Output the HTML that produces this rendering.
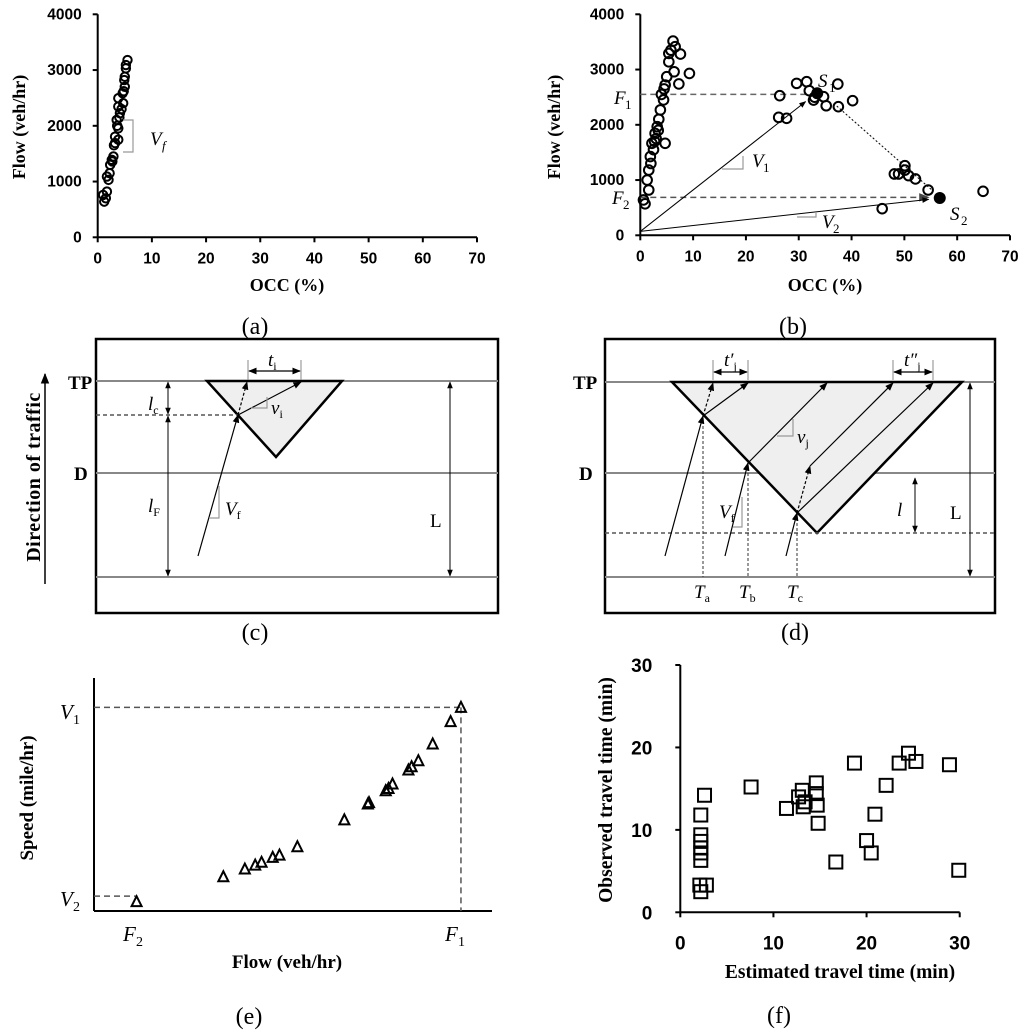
<!DOCTYPE html>
<html><head><meta charset="utf-8"><title>Traffic figure</title>
<style>
html,body{margin:0;padding:0;background:#fff;}
svg{display:block;}
.tk{font-family:"Liberation Sans",sans-serif;font-weight:bold;font-size:15.5px;fill:#000;}
.ttl{font-family:"Liberation Serif",serif;font-weight:bold;font-size:18px;fill:#000;}
.pl{font-family:"Liberation Serif",serif;font-size:24px;fill:#000;}
.it{font-family:"Liberation Serif",serif;font-style:italic;font-size:19px;fill:#000;}
.sub{font-size:12px;font-style:normal;}
.bl{font-family:"Liberation Serif",serif;font-weight:bold;font-size:19px;fill:#000;}
</style></head>
<body>
<svg id="fig" width="1024" height="1034" viewBox="0 0 1024 1034" xmlns="http://www.w3.org/2000/svg">
<defs>
<marker id="ah" viewBox="0 0 10 10" refX="9" refY="5" markerWidth="7" markerHeight="7" orient="auto-start-reverse"><path d="M0,1 L10,5 L0,9 z" fill="#000"/></marker>
<marker id="ahg" viewBox="0 0 10 10" refX="9" refY="5" markerWidth="7" markerHeight="7" orient="auto-start-reverse"><path d="M0,1 L10,5 L0,9 z" fill="#444"/></marker>
</defs>

<!-- Panel (c) static diagram -->
<g>
  <rect x="96" y="339" width="402" height="274" fill="none" stroke="#000" stroke-width="2.5"/>
  <line x1="96" y1="381" x2="498" y2="381" stroke="#888" stroke-width="2"/>
  <line x1="96" y1="473" x2="498" y2="473" stroke="#888" stroke-width="2"/>
  <line x1="96" y1="577" x2="498" y2="577" stroke="#888" stroke-width="2"/>
  <polygon points="207,381 342,381 276,457" fill="#efefef" stroke="#000" stroke-width="2.5"/>
  <line x1="96" y1="415" x2="238" y2="415" stroke="#555" stroke-width="1.5" stroke-dasharray="4,3"/>
  <line x1="198" y1="556" x2="238" y2="415" stroke="#000" stroke-width="1.2" marker-end="url(#ah)"/>
  <line x1="238" y1="415" x2="247" y2="382" stroke="#000" stroke-width="1.2" stroke-dasharray="3,2" marker-end="url(#ah)"/>
  <line x1="238" y1="415" x2="301" y2="382" stroke="#000" stroke-width="1.2" marker-end="url(#ah)"/>
  <line x1="248" y1="360" x2="248" y2="380" stroke="#888" stroke-width="1"/>
  <line x1="301" y1="360" x2="301" y2="380" stroke="#888" stroke-width="1"/>
  <line x1="249" y1="371" x2="300" y2="371" stroke="#000" stroke-width="1.2" marker-start="url(#ah)" marker-end="url(#ah)"/>
  <text class="it" x="268" y="366">t<tspan class="sub" dy="4">i</tspan></text>
  <polyline points="251,408 267,408 267,397" fill="none" stroke="#999" stroke-width="1.2"/>
  <text class="it" x="271" y="414">v<tspan class="sub" dy="4">i</tspan></text>
  <polyline points="209,518 219,518 219,486" fill="none" stroke="#999" stroke-width="1.2"/>
  <text class="it" x="225" y="515">V<tspan class="sub" dy="4">f</tspan></text>
  <line x1="168" y1="382" x2="168" y2="414" stroke="#000" stroke-width="1" marker-start="url(#ah)" marker-end="url(#ah)"/>
  <line x1="168" y1="416" x2="168" y2="576" stroke="#000" stroke-width="1" marker-start="url(#ah)" marker-end="url(#ah)"/>
  <text class="it" x="148" y="410">l<tspan class="sub" dy="4">c</tspan></text>
  <text class="it" x="148" y="512">l<tspan class="sub" dy="4">F</tspan></text>
  <line x1="450" y1="382" x2="450" y2="576" stroke="#000" stroke-width="1" marker-start="url(#ah)" marker-end="url(#ah)"/>
  <text x="430" y="527" style="font-family:'Liberation Serif',serif;font-size:19px">L</text>
  <text class="bl" x="68" y="389">TP</text>
  <text class="bl" x="74" y="480">D</text>
  <line x1="45" y1="584" x2="45" y2="374" stroke="#000" stroke-width="1.5" marker-end="url(#ah)"/>
  <text class="bl" transform="translate(40,477) rotate(-90)" text-anchor="middle" style="font-size:20px;letter-spacing:0.5px">Direction of traffic</text>
  <text class="pl" x="255" y="640" text-anchor="middle">(c)</text>
</g>

<!-- Panel (d) static diagram -->
<g>
  <rect x="605" y="339" width="390" height="274" fill="none" stroke="#000" stroke-width="2.5"/>
  <line x1="605" y1="382" x2="995" y2="382" stroke="#888" stroke-width="2"/>
  <line x1="605" y1="473" x2="995" y2="473" stroke="#888" stroke-width="2"/>
  <line x1="605" y1="577" x2="995" y2="577" stroke="#888" stroke-width="2"/>
  <polygon points="672,382 962,382 817,533" fill="#efefef" stroke="#000" stroke-width="2.5"/>
  <line x1="605" y1="533" x2="995" y2="533" stroke="#555" stroke-width="1.5" stroke-dasharray="4,3"/>
  <line x1="703" y1="416" x2="703" y2="577" stroke="#333" stroke-width="1" stroke-dasharray="3,2"/>
  <line x1="748" y1="463" x2="748" y2="577" stroke="#333" stroke-width="1" stroke-dasharray="3,2"/>
  <line x1="797" y1="513" x2="797" y2="577" stroke="#333" stroke-width="1" stroke-dasharray="3,2"/>
  <line x1="665" y1="556" x2="703" y2="416" stroke="#000" stroke-width="1.2" marker-end="url(#ah)"/>
  <line x1="725" y1="556" x2="748" y2="463" stroke="#000" stroke-width="1.2" marker-end="url(#ah)"/>
  <line x1="786" y1="556" x2="797" y2="513" stroke="#000" stroke-width="1.2" marker-end="url(#ah)"/>
  <line x1="703" y1="416" x2="713" y2="383" stroke="#000" stroke-width="1.2" stroke-dasharray="3,2" marker-end="url(#ah)"/>
  <line x1="703" y1="416" x2="748" y2="383" stroke="#000" stroke-width="1.2" marker-end="url(#ah)"/>
  <line x1="748" y1="463" x2="827" y2="383" stroke="#000" stroke-width="1.2" marker-end="url(#ah)"/>
  <line x1="797" y1="513" x2="810" y2="466" stroke="#000" stroke-width="1.2" stroke-dasharray="3,2" marker-end="url(#ah)"/>
  <line x1="810" y1="466" x2="893" y2="383" stroke="#000" stroke-width="1.2" marker-end="url(#ah)"/>
  <line x1="797" y1="513" x2="933" y2="383" stroke="#000" stroke-width="1.2" marker-end="url(#ah)"/>
  <line x1="713" y1="360" x2="713" y2="380" stroke="#888" stroke-width="1"/>
  <line x1="748" y1="360" x2="748" y2="380" stroke="#888" stroke-width="1"/>
  <line x1="714" y1="372" x2="747" y2="372" stroke="#000" stroke-width="1.2" marker-start="url(#ah)" marker-end="url(#ah)"/>
  <text class="it" x="724" y="366">t′<tspan class="sub" dy="4">j</tspan></text>
  <line x1="893" y1="360" x2="893" y2="380" stroke="#888" stroke-width="1"/>
  <line x1="933" y1="360" x2="933" y2="380" stroke="#888" stroke-width="1"/>
  <line x1="894" y1="372" x2="932" y2="372" stroke="#000" stroke-width="1.2" marker-start="url(#ah)" marker-end="url(#ah)"/>
  <text class="it" x="904" y="366">t″<tspan class="sub" dy="4">j</tspan></text>
  <polyline points="777,436 793,436 793,419" fill="none" stroke="#999" stroke-width="1.2"/>
  <text class="it" x="797" y="443">v<tspan class="sub" dy="4">j</tspan></text>
  <polyline points="733,527 742,527 742,497" fill="none" stroke="#999" stroke-width="1.2"/>
  <text class="it" x="719" y="518">V<tspan class="sub" dy="4">f</tspan></text>
  <line x1="915" y1="478" x2="915" y2="532" stroke="#000" stroke-width="1" marker-start="url(#ah)" marker-end="url(#ah)"/>
  <text class="it" x="897" y="516">l</text>
  <line x1="970" y1="383" x2="970" y2="576" stroke="#000" stroke-width="1" marker-start="url(#ah)" marker-end="url(#ah)"/>
  <text x="950" y="519" style="font-family:'Liberation Serif',serif;font-size:19px">L</text>
  <text class="it" x="694" y="598">T<tspan class="sub" dy="4">a</tspan></text>
  <text class="it" x="739" y="598">T<tspan class="sub" dy="4">b</tspan></text>
  <text class="it" x="787" y="598">T<tspan class="sub" dy="4">c</tspan></text>
  <text class="bl" x="573" y="389">TP</text>
  <text class="bl" x="579" y="480">D</text>
  <text class="pl" x="795" y="640" text-anchor="middle">(d)</text>
</g>
</svg>

<script>
var NS = 'http://www.w3.org/2000/svg';
var svg = document.getElementById('fig');
function mk(tag, attrs, parent) {
  var e = document.createElementNS(NS, tag);
  for (var k in attrs) e.setAttribute(k, attrs[k]);
  (parent || svg).appendChild(e);
  return e;
}
function txt(str, attrs, parent) { var t = mk('text', attrs, parent); t.textContent = str; return t; }

// ---------- Panel (a) data ----------
var aOcc  = [1.2,1.0,1.7,1.5,2.0,1.7,2.3,2.6,2.9,2.7,3.2,3.8,3.2,3.8,3.5,4.1,3.8,4.7,3.8,4.6,5.0,4.9,5.0,5.2,5.5,5.2,4.4,4.0,3.6,3.0,2.2,4.8];
var aFlow = [640,760,820,700,1030,1090,1300,1390,1450,1360,1690,1750,1805,1955,2105,2225,2345,2405,2495,2585,2700,2820,2880,3030,3180,3090,2300,2150,2000,1650,1150,2620];
var occTicks = [0,10,20,30,40,50,60,70];
var flowTicks = [0,1000,2000,3000,4000];

// ---------- Panel (b) data ----------
var bOcc  = [6.2,6.6,7.6,5.4,5.4,9.3,6.4,7.3,5.0,4.7,4.4,3.8,3.5,3.2,2.8,4.7,2.2,1.9,1.6,1.3,1.6,0.6,0.9,3.0,2.5,2.0,4.0,3.4,2.7,5.8,4.5,26.4,26.2,27.7,29.6,31.5,32.0,32.8,34.7,35.2,37.5,37.4,40.2,33.0,50.1,50.1,48.1,48.9,50.8,52.1,54.5,45.8,64.9];
var bFlow = [3515,3413,3280,3292,3140,2930,2960,2740,2870,2720,2450,2270,2100,1965,1845,1665,1665,1425,1180,1000,820,640,570,1750,1550,1300,2550,1900,1700,3350,2650,2527,2135,2117,2750,2780,2617,2448,2508,2345,2328,2738,2436,2500,1260,1180,1110,1110,1080,1020,820,482,796];
var bS1 = [33.5, 2570];
var bS2 = [56.7, 675];
var bF1 = 2550, bF2 = 687;

// ---------- Panel (e) data (normalised units 0-100) ----------
var eFlow  = [10.7,32.5,37.9,40.5,42.1,44.9,46.6,51.1,62.9,68.8,69.1,73.3,74.0,75.0,79.0,79.8,81.5,85.1,89.6,92.2];
var eSpeed = [4.0,14.7,18.0,19.7,20.9,23.0,24.0,27.6,39.1,45.9,46.5,51.6,52.6,54.5,60.5,61.9,64.5,71.7,81.3,87.4];

// ---------- Panel (f) data ----------
var fEst = [7.6,2.6,2.2,2.2,2.2,2.2,2.2,2.2,2.1,2.2,2.8,11.4,12.7,13.1,13.4,13.2,14.6,14.6,14.7,14.8,16.7,18.7,20.0,20.5,20.9,22.1,23.5,24.5,25.3,28.9,29.9];
var fObs = [15.2,14.2,11.8,9.4,8.6,7.8,7.2,6.3,3.3,2.5,3.3,12.6,14.0,14.8,13.4,12.8,15.7,14.4,13.0,10.8,6.1,18.1,8.7,7.2,11.9,15.4,18.1,19.3,18.3,17.9,5.1];
var fTicks = [0,10,20,30];

// ===== Panel (a) =====
(function(){
  var g = mk('g', {});
  
  
  var x0 = 97.7, x1 = 477, y0 = 237.3, y1 = 14.3;
  function X(v){ return x0 + v/70*(x1-x0); }
  function Y(v){ return y0 - v/4000*(y0-y1); }
  var ax = mk('line', {x1:x0,y1:y0,x2:x1,y2:y0,stroke:'#000','stroke-width':2}, g);
  
  
  var ay = mk('line', {x1:x0,y1:y0,x2:x0,y2:y1,stroke:'#000','stroke-width':2}, g);
  
  
  occTicks.forEach(function(t){
    var tl = mk('line', {x1:X(t),y1:y0,x2:X(t),y2:y0+5,stroke:'#000','stroke-width':2}, g);
    
    
    var tx = txt(String(t), {x:X(t),y:y0+26,'text-anchor':'middle','class':'tk'}, g);
    
    
  });
  flowTicks.forEach(function(t){
    var tl = mk('line', {x1:x0-5,y1:Y(t),x2:x0,y2:Y(t),stroke:'#000','stroke-width':2}, g);
    
    
    var tx = txt(String(t), {x:x0-16,y:Y(t)+5,'text-anchor':'end','class':'tk'}, g);
    
    
  });
  aOcc.forEach(function(v,i){
    var c = mk('circle', {cx:X(v),cy:Y(aFlow[i]),r:4.2,fill:'none',stroke:'#000','stroke-width':2}, g);
    
    
  });
  var br = mk('polyline', {points:'123,120 133,120 133,152 123,152',fill:'none',stroke:'#999','stroke-width':1.2}, g);
  
  
  var vl = txt('V', {x:150,y:145,'class':'it'}, g);
  
  
  var vs = txt('f', {x:162,y:150,'class':'it',style:'font-size:13px'}, g);
  
  
  var xt = txt('OCC (%)', {x:287,y:291,'text-anchor':'middle','class':'ttl'}, g);
  
  
  var yt = txt('Flow (veh/hr)', {transform:'translate(25,127) rotate(-90)','text-anchor':'middle','class':'ttl'}, g);
  
  
  var pl = txt('(a)', {x:255,y:334,'text-anchor':'middle','class':'pl'}, g);
  
  
})();

// ===== Panel (b) =====
(function(){
  var g = mk('g', {});
  
  
  var x0 = 640.3, x1 = 1010, y0 = 235.3, y1 = 14.3;
  function X(v){ return x0 + v/70*(x1-x0); }
  function Y(v){ return y0 - v/4000*(y0-y1); }
  var ax = mk('line', {x1:x0,y1:y0,x2:x1,y2:y0,stroke:'#000','stroke-width':2}, g);
  
  
  var ay = mk('line', {x1:x0,y1:y0,x2:x0,y2:y1,stroke:'#000','stroke-width':2}, g);
  
  
  occTicks.forEach(function(t){
    var tl = mk('line', {x1:X(t),y1:y0,x2:X(t),y2:y0+5,stroke:'#000','stroke-width':2}, g);
    
    
    var tx = txt(String(t), {x:X(t),y:y0+26,'text-anchor':'middle','class':'tk'}, g);
    
    
  });
  flowTicks.forEach(function(t){
    var tl = mk('line', {x1:x0-5,y1:Y(t),x2:x0,y2:Y(t),stroke:'#000','stroke-width':2}, g);
    
    
    var tx = txt(String(t), {x:x0-16,y:Y(t)+5,'text-anchor':'end','class':'tk'}, g);
    
    
  });
  var f1 = mk('line', {x1:x0,y1:Y(bF1),x2:X(31.5),y2:Y(bF1),stroke:'#666','stroke-width':1.5,'stroke-dasharray':'6,4'}, g);
  
  
  var f2 = mk('line', {x1:x0,y1:Y(bF2),x2:X(54.6),y2:Y(bF2),stroke:'#555','stroke-width':1.5,'stroke-dasharray':'6,4','marker-end':'url(#ahg)'}, g);
  
  
  var a1 = mk('line', {x1:x0,y1:Y(70),x2:X(31.3),y2:Y(2420),stroke:'#000','stroke-width':1,'marker-end':'url(#ah)'}, g);
  
  
  var a2 = mk('line', {x1:x0,y1:Y(70),x2:X(54.6),y2:Y(650),stroke:'#000','stroke-width':1,'marker-end':'url(#ah)'}, g);
  
  
  var dl = mk('line', {x1:X(37.2),y1:Y(2340),x2:X(55.2),y2:Y(820),stroke:'#000','stroke-width':1,'stroke-dasharray':'2,2'}, g);
  
  
  bOcc.forEach(function(v,i){
    var c = mk('circle', {cx:X(v),cy:Y(bFlow[i]),r:4.8,fill:'none',stroke:'#000','stroke-width':2}, g);
    
    
  });
  var s1 = mk('circle', {cx:X(bS1[0]),cy:Y(bS1[1]),r:6,fill:'#000'}, g);
  
  
  var s2 = mk('circle', {cx:X(bS2[0]),cy:Y(bS2[1]),r:6,fill:'#000'}, g);
  
  
  var b1 = mk('polyline', {points:'722,169 743,169 743,156',fill:'none',stroke:'#999','stroke-width':1.2}, g);
  
  
  var b2 = mk('polyline', {points:'797,217 816,217 816,212',fill:'none',stroke:'#999','stroke-width':1.2}, g);
  
  
  var labels = [['V','1',752,167,'v1-label'],['V','2',822,228,'v2-label'],['S','1',818,87,'s1-label'],['S','2',950,220,'s2-label'],['F','1',614,104,'f1-label'],['F','2',612,204,'f2-label']];
  labels.forEach(function(L){
    var t = txt(L[0], {x:L[2],y:L[3],'class':'it'}, g);
    
    
    var s = txt(L[1], {x:L[2]+11,y:L[3]+5,'class':'it',style:'font-size:13px;font-style:normal'}, g);
    
    
  });
  var xt = txt('OCC (%)', {x:825,y:291,'text-anchor':'middle','class':'ttl'}, g);
  
  
  var yt = txt('Flow (veh/hr)', {transform:'translate(560,127) rotate(-90)','text-anchor':'middle','class':'ttl'}, g);
  
  
  var pl = txt('(b)', {x:793,y:334,'text-anchor':'middle','class':'pl'}, g);
  
  
})();

// ===== Panel (e) =====
(function(){
  var g = mk('g', {});
  
  
  var x0 = 94, x1 = 492, y0 = 911, y1 = 678;
  function X(v){ return x0 + v/100*(x1-x0); }
  function Y(v){ return y0 - v/100*(y0-y1); }
  var ax = mk('line', {x1:x0,y1:y0,x2:x1,y2:y0,stroke:'#000','stroke-width':2}, g);
  
  
  var ay = mk('line', {x1:x0,y1:y0,x2:x0,y2:y1,stroke:'#000','stroke-width':2}, g);
  
  
  var n = eFlow.length - 1;
  var v1 = mk('line', {x1:x0,y1:Y(eSpeed[n]),x2:X(eFlow[n]),y2:Y(eSpeed[n]),stroke:'#555','stroke-width':1.5,'stroke-dasharray':'6,4'}, g);
  
  
  var f1 = mk('line', {x1:X(eFlow[n]),y1:Y(eSpeed[n]),x2:X(eFlow[n]),y2:y0,stroke:'#555','stroke-width':1.5,'stroke-dasharray':'6,4'}, g);
  
  
  var v2 = mk('line', {x1:x0,y1:Y(6.4),x2:X(eFlow[0]),y2:Y(6.4),stroke:'#555','stroke-width':1.5,'stroke-dasharray':'6,4'}, g);
  
  
  eFlow.forEach(function(v,i){
    var cx = X(v), cy = Y(eSpeed[i]);
    var p = mk('polygon', {points:(cx-5)+','+(cy+4.5)+' '+(cx+5)+','+(cy+4.5)+' '+cx+','+(cy-5.5),fill:'none',stroke:'#000','stroke-width':2}, g);
    
    
  });
  var labels = [['V','1',60,719,'v1-axis-label'],['V','2',60,906,'v2-axis-label'],['F','2',123,941,'f2-axis-label'],['F','1',445,941,'f1-axis-label']];
  labels.forEach(function(L){
    var t = txt(L[0], {x:L[2],y:L[3],'class':'it',style:'font-size:21px'}, g);
    
    
    var s = txt(L[1], {x:L[2]+13,y:L[3]+5,'class':'it',style:'font-size:14px;font-style:normal'}, g);
    
    
  });
  var xt = txt('Flow (veh/hr)', {x:287,y:968,'text-anchor':'middle','class':'ttl',style:'font-size:19px'}, g);
  
  
  var yt = txt('Speed (mile/hr)', {transform:'translate(33,798) rotate(-90)','text-anchor':'middle','class':'ttl',style:'font-size:19px'}, g);
  
  
  var pl = txt('(e)', {x:249,y:1024,'text-anchor':'middle','class':'pl'}, g);
  
  
})();

// ===== Panel (f) =====
(function(){
  var g = mk('g', {});
  
  
  var x0 = 680.3, x1 = 959.7, y0 = 912.3, y1 = 665;
  function X(v){ return x0 + v/30*(x1-x0); }
  function Y(v){ return y0 - v/30*(y0-y1); }
  var ax = mk('line', {x1:x0,y1:y0,x2:x1,y2:y0,stroke:'#000','stroke-width':2}, g);
  
  
  var ay = mk('line', {x1:x0,y1:y0,x2:x0,y2:y1,stroke:'#000','stroke-width':2}, g);
  
  
  fTicks.forEach(function(t){
    var tl = mk('line', {x1:X(t),y1:y0,x2:X(t),y2:y0+5,stroke:'#000','stroke-width':2}, g);
    
    
    var tx = txt(String(t), {x:X(t),y:y0+37,'text-anchor':'middle','class':'tk',style:'font-size:19px'}, g);
    
    
    var ty = mk('line', {x1:x0-5,y1:Y(t),x2:x0,y2:Y(t),stroke:'#000','stroke-width':2}, g);
    
    
    var tyl = txt(String(t), {x:x0-28,y:Y(t)+7,'text-anchor':'end','class':'tk',style:'font-size:19px'}, g);
    
    
  });
  fEst.forEach(function(v,i){
    var r = mk('rect', {x:X(v)-6.5,y:Y(fObs[i])-6.5,width:13,height:13,fill:'none',stroke:'#000','stroke-width':2}, g);
    
    
  });
  var xt = txt('Estimated travel time (min)', {x:840,y:978,'text-anchor':'middle','class':'ttl',style:'font-size:19.5px'}, g);
  
  
  var yt = txt('Observed travel time (min)', {transform:'translate(612,790) rotate(-90)','text-anchor':'middle','class':'ttl',style:'font-size:19.5px'}, g);
  
  
  var pl = txt('(f)', {x:779,y:1023,'text-anchor':'middle','class':'pl'}, g);
  
  
})();
</script>
</body></html>
